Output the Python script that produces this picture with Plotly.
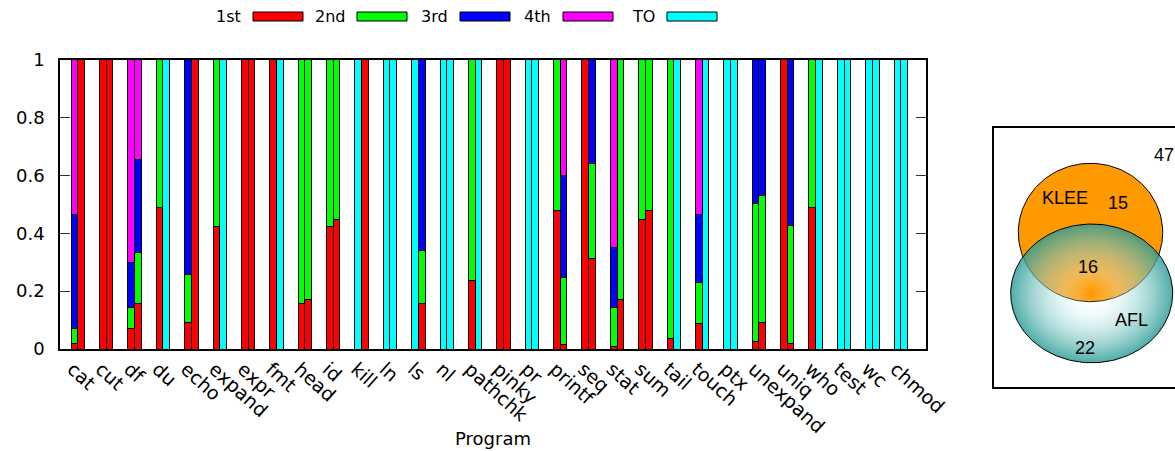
import numpy as np
import plotly.graph_objects as go

W, H = 1175, 451

programs = ["cat", "cut", "df", "du", "echo", "expand", "expr", "fmt", "head", "id",
            "kill", "ln", "ls", "nl", "pathchk", "pinky", "pr", "printf", "seq", "stat",
            "sum", "tail", "touch", "ptx", "unexpand", "uniq", "who", "test", "wc", "chmod"]

rank_names = ["1st", "2nd", "3rd", "4th", "TO"]
rank_colors = ["#ff0000", "#00ff00", "#0000ff", "#ff00ff", "#00ffff"]

# KLEE (left bar of each pair): fraction of runs per rank
klee_1st = [0.02, 1, 0.07, 0.49, 0.092, 0.422, 1, 1, 0.158, 0.423,
            0, 0, 0, 0, 0.236, 1, 0, 0.48, 1, 0.01,
            0.446, 0.037, 0.087, 0, 0.027, 1, 0.49, 0, 0, 0]
klee_2nd = [0.05, 0, 0.072, 0.51, 0.166, 0.578, 0, 0, 0.842, 0.577,
            0, 0, 0, 0, 0.764, 0, 0, 0.52, 0, 0.133,
            0.554, 0.963, 0.144, 0, 0.476, 0, 0.51, 0, 0, 0]
klee_3rd = [0.395, 0, 0.157, 0, 0.742, 0, 0, 0, 0, 0,
            0, 0, 0, 0, 0, 0, 0, 0, 0, 0.209,
            0, 0, 0.232, 0, 0.497, 0, 0, 0, 0, 0]
klee_4th = [0.535, 0, 0.701, 0, 0, 0, 0, 0, 0, 0,
            0, 0, 0, 0, 0, 0, 0, 0, 0, 0.648,
            0, 0, 0.537, 0, 0, 0, 0, 0, 0, 0]
klee_to = [0, 0, 0, 0, 0, 0, 0, 0, 0, 0,
           1, 1, 1, 1, 0, 0, 1, 0, 0, 0,
           0, 0, 0, 1, 0, 0, 0, 1, 1, 1]

# AFL (right bar of each pair)
afl_1st = [1, 1, 0.156, 0, 1, 0, 1, 0, 0.17, 0.446,
           1, 0, 0.158, 0, 0, 1, 0, 0.016, 0.314, 0.172,
           0.48, 0, 0, 0, 0.092, 0.02, 0, 0, 0, 0]
afl_2nd = [0, 0, 0.177, 0, 0, 0, 0, 0, 0.83, 0.554,
           0, 0, 0.183, 0, 0, 0, 0, 0.231, 0.328, 0.828,
           0.52, 0, 0, 0, 0.439, 0.407, 0, 0, 0, 0]
afl_3rd = [0, 0, 0.323, 0, 0, 0, 0, 0, 0, 0,
           0, 0, 0.659, 0, 0, 0, 0, 0.354, 0.358, 0,
           0, 0, 0, 0, 0.469, 0.573, 0, 0, 0, 0]
afl_4th = [0, 0, 0.344, 0, 0, 0, 0, 0, 0, 0,
           0, 0, 0, 0, 0, 0, 0, 0.399, 0, 0,
           0, 0, 0, 0, 0, 0, 0, 0, 0, 0]
afl_to = [0, 0, 0, 1, 0, 1, 0, 1, 0, 0,
          0, 1, 0, 1, 1, 0, 1, 0, 0, 0,
          0, 1, 1, 1, 0, 0, 1, 1, 1, 1]

y_ticks = [0, 0.2, 0.4, 0.6, 0.8, 1]
y_tick_text = ["0", "0.2", "0.4", "0.6", "0.8", "1"]

# Venn counts
venn_klee_only = 15
venn_both = 16
venn_afl_only = 22
venn_neither = 47

klee_series = [klee_1st, klee_2nd, klee_3rd, klee_4th, klee_to]
afl_series = [afl_1st, afl_2nd, afl_3rd, afl_4th, afl_to]

FONT = "DejaVu Sans"
VFONT = "Liberation Sans"

n = len(programs)
off = 0.118
bar_w = 0.235
x_left = [i - off for i in range(n)]
x_right = [i + off for i in range(n)]


def nz(vals):
    # empty segments are left out so they draw no outline
    return [v if v else None for v in vals]


fig = go.Figure()
for name, color, kv, av in zip(rank_names, rank_colors, klee_series, afl_series):
    fig.add_trace(go.Bar(
        x=x_left + x_right, y=nz(kv) + nz(av), width=bar_w, name=name,
        marker=dict(color=color, line=dict(color="black", width=1)),
        showlegend=False, xaxis="x", yaxis="y",
    ))

# Venn ellipses, drawn on a pixel-space overlay axis pair (x2/y2)
t = np.linspace(0, 2 * np.pi, 241)
kcx, kcy, krx, kry = 1090.5, 232.5, 72.2, 69.2
acx, acy, arx, ary = 1091.7, 293.4, 81.0, 69.4
fig.add_trace(go.Scatter(
    x=kcx + krx * np.cos(t), y=kcy + kry * np.sin(t), mode="lines",
    fill="toself", fillcolor="rgb(255,153,0)", line=dict(color="black", width=1),
    xaxis="x2", yaxis="y2", showlegend=False, hoverinfo="skip",
))
fig.add_trace(go.Scatter(
    x=acx + arx * np.cos(t), y=acy + ary * np.sin(t), mode="lines",
    fill="toself",
    fillgradient=dict(type="radial", colorscale=[
        [0.0, "rgba(255,255,255,0)"],
        [0.3, "rgba(215,242,242,0.35)"],
        [1.0, "rgba(40,155,150,0.82)"],
    ]),
    line=dict(color="black", width=1),
    xaxis="x2", yaxis="y2", showlegend=False, hoverinfo="skip",
))

shapes = []
annotations = []

# Legend: label followed by colour swatch
legend_box_x = [253, 357, 460, 563, 667]
for name, color, bx in zip(rank_names, rank_colors, legend_box_x):
    shapes.append(dict(type="rect", xref="x2", yref="y2", x0=bx, x1=bx + 50, y0=12, y1=21,
                       fillcolor=color, line=dict(color="black", width=1)))
    annotations.append(dict(xref="x2", yref="y2", x=bx - 10, y=16.5, text=name,
                            showarrow=False, xanchor="right", yanchor="middle",
                            font=dict(family=FONT, size=16, color="black")))

# Venn frame
shapes.append(dict(type="rect", xref="x2", yref="y2", x0=993, x1=1195, y0=127, y1=388,
                   line=dict(color="black", width=2), fillcolor="rgba(0,0,0,0)", layer="below"))

venn_labels = [
    ("KLEE", 1065, 198), (str(venn_klee_only), 1118, 203), (str(venn_both), 1088, 267),
    ("AFL", 1131, 320), (str(venn_afl_only), 1085, 348), (str(venn_neither), 1164, 155),
]
for txt, x, y in venn_labels:
    annotations.append(dict(xref="x2", yref="y2", x=x, y=y, text=txt, showarrow=False,
                            xanchor="center", yanchor="middle",
                            font=dict(family=VFONT, size=18, color="black")))

annotations.append(dict(xref="x2", yref="y2", x=493, y=438, text="Program", showarrow=False,
                        xanchor="center", yanchor="middle",
                        font=dict(family=FONT, size=18, color="black")))

x0_px, x1_px, ytop_px, ybot_px = 60, 926, 59.5, 349

fig.update_layout(
    width=W, height=H, margin=dict(l=0, r=0, t=0, b=0, pad=0),
    paper_bgcolor="white", plot_bgcolor="rgba(0,0,0,0)",
    barmode="stack", bargap=0, showlegend=False,
    shapes=shapes, annotations=annotations,
    font=dict(family=FONT, size=16, color="black"),
    xaxis=dict(domain=[x0_px / W, x1_px / W], range=[-0.645, 29.87], anchor="y",
               tickmode="array", tickvals=list(range(n)), ticktext=programs,
               tickangle=42, ticks="", showgrid=False, zeroline=False,
               showline=True, linecolor="black", linewidth=1.5, mirror=True,
               ticklabelshift=-6,
               tickfont=dict(family=FONT, size=19), automargin=False),
    yaxis=dict(domain=[1 - ybot_px / H, 1 - ytop_px / H], range=[0, 1], anchor="x",
               tickmode="array", tickvals=y_ticks, ticktext=y_tick_text,
               ticks="inside", ticklen=10, tickwidth=1, tickcolor="#333",
               showgrid=False, zeroline=False, showline=True, linecolor="black",
               linewidth=1.5, mirror="ticks", ticklabelstandoff=10,
               tickfont=dict(family=FONT, size=18), automargin=False),
    xaxis2=dict(domain=[0, 1], range=[0, W], anchor="y2", visible=False, fixedrange=True),
    yaxis2=dict(domain=[0, 1], range=[H, 0], anchor="x2", visible=False, fixedrange=True),
)

fig.write_html("out.html")
